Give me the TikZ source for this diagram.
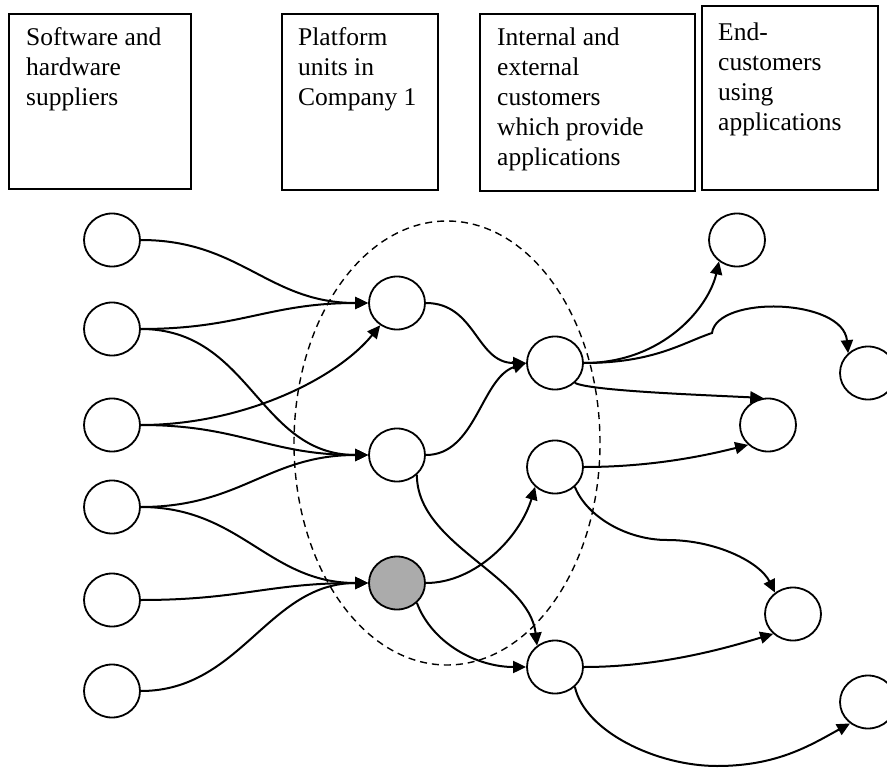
\documentclass[tikz,border=0pt]{standalone}
\usepackage{fontspec}
\setmainfont{Liberation Serif}
\usetikzlibrary{arrows.meta,shapes.geometric}
\begin{document}
\begin{tikzpicture}[x=1pt,y=-1pt,
 circ/.style={ellipse,draw,line width=1.8pt,minimum width=56pt,minimum height=53pt,inner sep=0pt,fill=white},
 graycirc/.style={circ,fill=black!33},
 conn/.style={line width=2pt,-{Triangle[length=13pt,width=12pt]}},
 hdrbox/.style={draw,line width=1.8pt,anchor=north west,inner sep=0pt},
 hdrtext/.style={anchor=north west,inner sep=0pt,align=left,font=\fontsize{25.5pt}{30pt}\selectfont}]
\useasboundingbox (0,0) rectangle (887,768);

% header boxes
\node[hdrbox,minimum width=182pt,minimum height=175pt] (h1) at (8,13) {};
\node[hdrbox,minimum width=156pt,minimum height=176pt] (h2) at (281,13) {};
\node[hdrbox,minimum width=215pt,minimum height=177pt] (h3) at (479,13) {};
\node[hdrbox,minimum width=176pt,minimum height=184pt] (h4) at (701,5) {};
\node[hdrtext] (t1) at (26,24) {\strut Software and\\hardware\\suppliers};
\node[hdrtext] (t2) at (298,24) {\strut Platform\\units in\\Company 1};
\node[hdrtext] (t3) at (497,24) {\strut Internal and\\external\\customers\\which provide\\applications};
\node[hdrtext] (t4) at (718,19) {\strut End-\\customers\\using\\applications};

% dashed boundary
\draw[line width=1.4pt,dash pattern=on 7pt off 5pt] (447,443) ellipse [x radius=153pt, y radius=222pt];

% nodes
\node[circ] (L1) at (112,240) {};
\node[circ] (L2) at (112,329) {};
\node[circ] (L3) at (112,425) {};
\node[circ] (L4) at (112,507) {};
\node[circ] (L5) at (112,600) {};
\node[circ] (L6) at (112,691) {};
\node[circ] (P1) at (397,303) {};
\node[circ] (P2) at (397,455) {};
\node[graycirc] (G) at (397,583) {};
\node[circ] (A) at (555,363) {};
\node[circ] (B) at (555,467) {};
\node[circ] (C) at (555,667) {};
\node[circ] (E1) at (737,240) {};
\node[circ] (E2) at (868,373) {};
\node[circ] (E3) at (768,425) {};
\node[circ] (E4) at (793,614) {};
\node[circ] (E5) at (868,702) {};
\coordinate (k16) at (712,333);
\coordinate (k19) at (667,540);
\coordinate (k21) at (717,766);

% suppliers -> platform
\draw[conn] (L1.east) .. controls +(100,0) and +(-100,0) .. (P1.west);
\draw[conn] (L2.east) .. controls +(100,0) and +(-100,0) .. (P1.west);
\draw[conn] (L2.east) .. controls +(110,0) and +(-110,0) .. (P2.west);
\draw[conn] (L3.east) .. controls +(100,0) and +(-45,55) .. (P1.-127);
\draw[conn] (L3.east) .. controls +(100,0) and +(-100,0) .. (P2.west);
\draw[conn] (L4.east) .. controls +(100,0) and +(-100,0) .. (P2.west);
\draw[conn] (L4.east) .. controls +(100,0) and +(-100,0) .. (G.west);
\draw[conn] (L5.east) .. controls +(100,0) and +(-100,0) .. (G.west);
\draw[conn] (L6.east) .. controls +(100,0) and +(-100,0) .. (G.west);

% platform -> customers
\draw[conn] (P1.east) .. controls +(50,0) and +(-50,0) .. (A.west);
\draw[conn] (P2.east) .. controls +(50,0) and +(-45,15) .. (A.west);
\draw[conn] (P2.-45) .. controls +(0,70) and +(-8,-70) .. (C.130);
\draw[conn] (G.east) .. controls +(50,0) and +(-15,50) .. (B.-135);
\draw[conn] (G.-45) .. controls +(15,40) and +(-50,0) .. (C.west);

% customers -> end-customers
\draw[conn] (A.east) .. controls +(80,0) and +(-10,45) .. (E1.-130);
\draw[conn] (A.east) .. controls +(70,0) and +(-30,10) .. (k16) .. controls +(5,-38) and +(-5,-55) .. (E2.135);
\draw[conn] (A.-45) .. controls +(15,8) and +(-60,-3) .. (E3.100);
\draw[conn] (B.east) .. controls +(70,0) and +(-40,10) .. (E3.-135);
\draw[conn] (B.-45) .. controls +(12,30) and +(-40,0) .. (k19) .. controls +(50,0) and +(-15,-30) .. (E4.130);
\draw[conn] (C.east) .. controls +(80,0) and +(-40,12) .. (E4.-135);
\draw[conn] (C.-45) .. controls +(10,45) and +(-60,0) .. (k21) .. controls +(60,0) and +(-40,22) .. (E5.-130);
\end{tikzpicture}
\end{document}
